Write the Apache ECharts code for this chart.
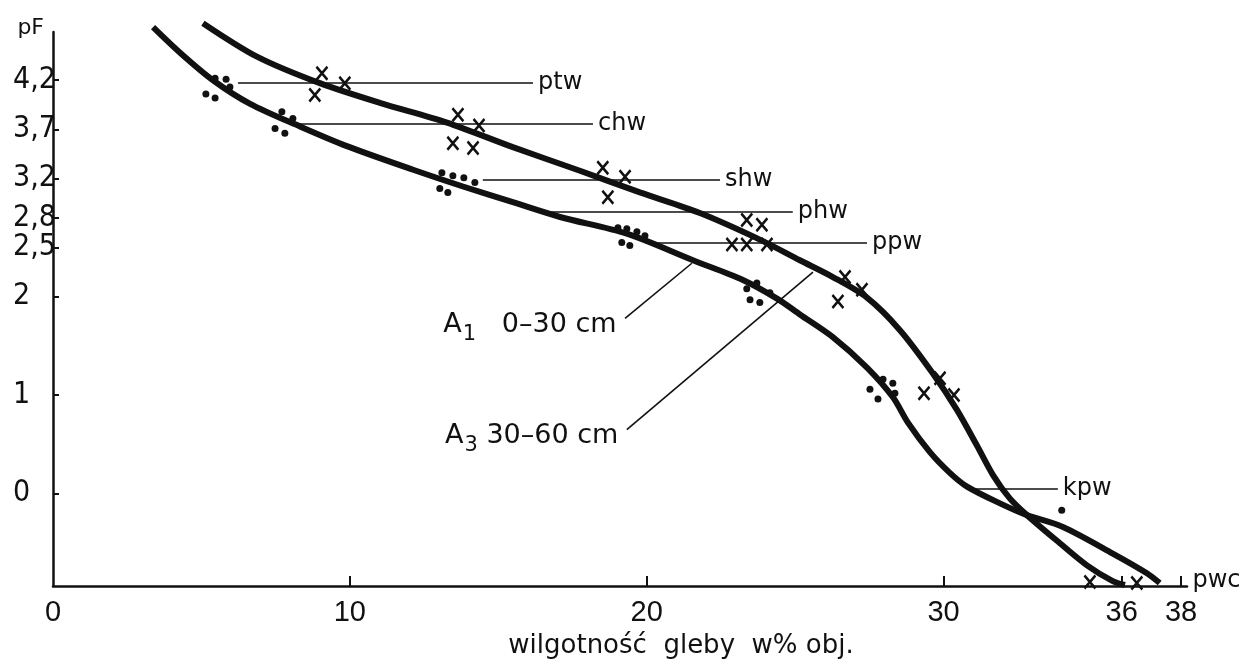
<!DOCTYPE html>
<html>
<head>
<meta charset="utf-8">
<title>pF – wilgotność gleby</title>
<script src="https://cdn.jsdelivr.net/npm/echarts@6/dist/echarts.min.js"></script>
<style>
  html, body { margin: 0; padding: 0; background: #fff; }
  #chart { width: 1247px; height: 660px; }
</style>
</head>
<body>
<div id="chart"></div>
<script>
// axis ticks and labels
let xLabels = [0, 10, 20, 30, 36, 38]
let xTicks = [10, 20, 30, 36, 38]
let pfTicks = [0, 1, 2, 2.5, 2.8, 3.2, 3.7, 4.2]

// retention curves [moisture %, pF]
let curveA1 = [
  [3.37, 4.74], [4.28, 4.48], [5.39, 4.20], [6.64, 3.96], [8.32, 3.73], [9.90, 3.53],
  [12.13, 3.29], [13.81, 3.12], [15.49, 2.96], [17.08, 2.81], [19.33, 2.64], [21.56, 2.37],
  [23.24, 2.17], [24.39, 1.98], [25.16, 1.82], [26.27, 1.59], [27.42, 1.28], [28.29, 0.98],
  [28.80, 0.72], [29.54, 0.42], [30.21, 0.21], [30.79, 0.07], [31.90, -0.10], [32.81, -0.22],
  [34.02, -0.34], [35.70, -0.61], [36.85, -0.81], [37.28, -0.91]
]
let curveA3 = [
  [5.05, 4.78], [6.87, 4.44], [8.99, 4.17], [11.01, 3.97], [13.27, 3.77], [15.49, 3.52],
  [17.75, 3.28], [19.77, 3.06], [21.79, 2.85], [23.81, 2.58], [25.16, 2.37], [26.27, 2.20],
  [27.42, 1.99], [28.53, 1.66], [29.64, 1.22], [30.45, 0.85], [31.12, 0.49], [31.66, 0.19],
  [32.23, -0.05], [32.81, -0.22], [33.82, -0.48], [34.83, -0.73], [35.70, -0.89], [36.11, -0.93]
]

// measured points: dots = A1, crosses = A3
let pointsA1 = [
  [5.46, 4.22], [5.83, 4.21], [5.96, 4.13], [5.15, 4.06], [5.46, 4.02],
  [7.71, 3.88], [8.08, 3.81], [7.48, 3.71], [7.81, 3.66],
  [13.10, 3.26], [13.47, 3.23], [13.84, 3.21], [14.21, 3.16], [13.03, 3.10], [13.30, 3.06],
  [19.03, 2.70], [19.33, 2.69], [19.67, 2.66], [19.94, 2.62], [19.16, 2.55], [19.43, 2.52],
  [23.71, 2.14], [23.37, 2.08], [24.15, 2.04], [23.48, 1.97], [23.81, 1.94],
  [27.96, 1.16], [28.29, 1.12], [27.52, 1.06], [28.36, 1.02], [27.79, 0.96],
  [33.98, -0.17]
]
let pointsA3 = [
  [9.06, 4.27], [9.83, 4.17], [8.82, 4.05],
  [13.64, 3.85], [14.35, 3.74], [13.47, 3.56], [14.15, 3.51],
  [18.52, 3.31], [19.27, 3.22], [18.69, 3.01],
  [23.37, 2.78], [23.88, 2.73],
  [22.87, 2.53], [23.37, 2.53], [24.05, 2.53],
  [26.68, 2.20], [27.25, 2.07], [26.44, 1.95],
  [29.88, 1.17], [29.34, 1.02], [30.35, 1.00],
  [34.93, -0.90], [36.51, -0.91]
]

// water constants: name, pF level, leader from / to (moisture %)
let waterNames = ['ptw', 'chw', 'shw', 'phw', 'ppw', 'kpw']
let waterPF = [4.17, 3.76, 3.19, 2.86, 2.55, 0.05]
let waterFrom = [6.23, 8.25, 14.48, 16.64, 20.01, 30.89]
let waterTo = [16.17, 18.19, 22.47, 24.92, 27.42, 33.85]

// horizon captions and their leaders
let horizonCodes = ['A', 'A']
let horizonSubs = ['1', '3']
let horizonDepths = ['   0–30 cm', ' 30–60 cm']
let horizonFrom = [[19.27, 1.78], [19.33, 0.65]]
let horizonTo = [[21.52, 2.34], [25.60, 2.25]]

let pwcName = 'pwc'
let pwcAt = [38.2, -0.94]

let ink = '#111'
let font = 'DejaVu Sans'

let leaders = waterNames.map((n, i) => [
  { name: n, coord: [waterFrom[i], waterPF[i]] },
  { coord: [waterTo[i], waterPF[i]] }
]).concat(horizonFrom.map((p, i) => [
  { name: '', coord: p, label: { show: false } },
  { coord: horizonTo[i] }
]))

let captions = horizonFrom.map((p, i) => ({
  value: p,
  label: { formatter: '{a|' + horizonCodes[i] + '}{s|' + horizonSubs[i] + '}{a|' + horizonDepths[i] + '}' }
}))

let chart = echarts.init(document.getElementById('chart'))
let option = {
  backgroundColor: '#fff',
  animation: false,
  grid: { left: 53, right: 60, top: 32, bottom: 74, outerBoundsMode: 'none' },
  xAxis: {
    type: 'value',
    min: 0,
    max: 38.2,
    name: 'wilgotność  gleby  w% obj.',
    nameLocation: 'middle',
    nameGap: 60,
    nameTextStyle: { color: ink, fontSize: 26, fontFamily: font, verticalAlign: 'middle', padding: [0, 0, 0, 122] },
    axisLine: { show: true, onZero: false, lineStyle: { color: ink, width: 2.5 } },
    axisTick: { show: true, inside: true, length: 10, customValues: xTicks, lineStyle: { color: ink, width: 2 } },
    axisLabel: { customValues: xLabels, margin: 12, color: ink, fontSize: 29, fontFamily: 'Liberation Sans' },
    splitLine: { show: false }
  },
  yAxis: {
    type: 'value',
    min: -0.94,
    max: 4.69,
    name: 'pF',
    nameLocation: 'end',
    nameGap: 4,
    nameTextStyle: { color: ink, fontSize: 22, fontFamily: font, align: 'right', verticalAlign: 'middle', padding: [0, 9, 0, 0] },
    axisLine: { show: true, onZero: false, lineStyle: { color: ink, width: 2.5 } },
    axisTick: { show: true, inside: true, length: 6, customValues: pfTicks, lineStyle: { color: ink, width: 2 } },
    axisLabel: {
      customValues: pfTicks,
      align: 'left',
      margin: 40,
      color: ink,
      fontSize: 30,
      fontFamily: '"Liberation Sans Narrow", "DejaVu Sans Condensed", sans-serif',
      formatter: v => String(v).replace('.', ',')
    },
    splitLine: { show: false }
  },
  series: [
    {
      name: 'A1 0–30 cm',
      type: 'line',
      data: curveA1,
      smooth: 0.3,
      showSymbol: false,
      clip: false,
      silent: true,
      lineStyle: { color: ink, width: 6 },
      z: 3
    },
    {
      name: 'A3 30–60 cm',
      type: 'line',
      data: curveA3,
      smooth: 0.3,
      showSymbol: false,
      clip: false,
      silent: true,
      lineStyle: { color: ink, width: 6 },
      z: 3
    },
    {
      name: 'A1 pomiary',
      type: 'scatter',
      data: pointsA1,
      symbol: 'circle',
      symbolSize: 7,
      itemStyle: { color: ink, opacity: 1 },
      z: 4,
      markLine: {
        silent: true,
        symbol: ['none', 'none'],
        lineStyle: { color: ink, width: 1.6, type: 'solid', opacity: 1 },
        label: { show: true, position: 'end', distance: 5, formatter: '{b}', color: ink, fontSize: 24, fontFamily: font },
        data: leaders
      }
    },
    {
      name: 'A3 pomiary',
      type: 'scatter',
      data: pointsA3,
      symbol: 'path://M0,0L10,13M10,0L0,13',
      symbolSize: [11, 13],
      itemStyle: { color: 'rgba(0,0,0,0)', borderColor: ink, borderWidth: 2.6, opacity: 1 },
      z: 4
    },
    {
      name: 'opisy',
      type: 'scatter',
      data: captions,
      symbolSize: 1,
      silent: true,
      itemStyle: { color: 'rgba(0,0,0,0)', opacity: 1 },
      label: {
        show: true,
        position: 'left',
        distance: 8,
        offset: [0, 8],
        color: ink,
        rich: {
          a: { fontSize: 27, fontFamily: font, color: ink, verticalAlign: 'top', lineHeight: 30 },
          s: { fontSize: 21, fontFamily: font, color: ink, verticalAlign: 'top', lineHeight: 21, padding: [13, 0, 0, 1] }
        }
      }
    },
    {
      name: 'pwc',
      type: 'scatter',
      data: [pwcAt],
      symbolSize: 1,
      silent: true,
      clip: false,
      itemStyle: { color: 'rgba(0,0,0,0)', opacity: 1 },
      label: { show: true, position: 'right', distance: 5, offset: [0, -5], formatter: pwcName, color: ink, fontSize: 24, fontFamily: font }
    }
  ]
}
chart.setOption(option)
</script>
</body>
</html>
